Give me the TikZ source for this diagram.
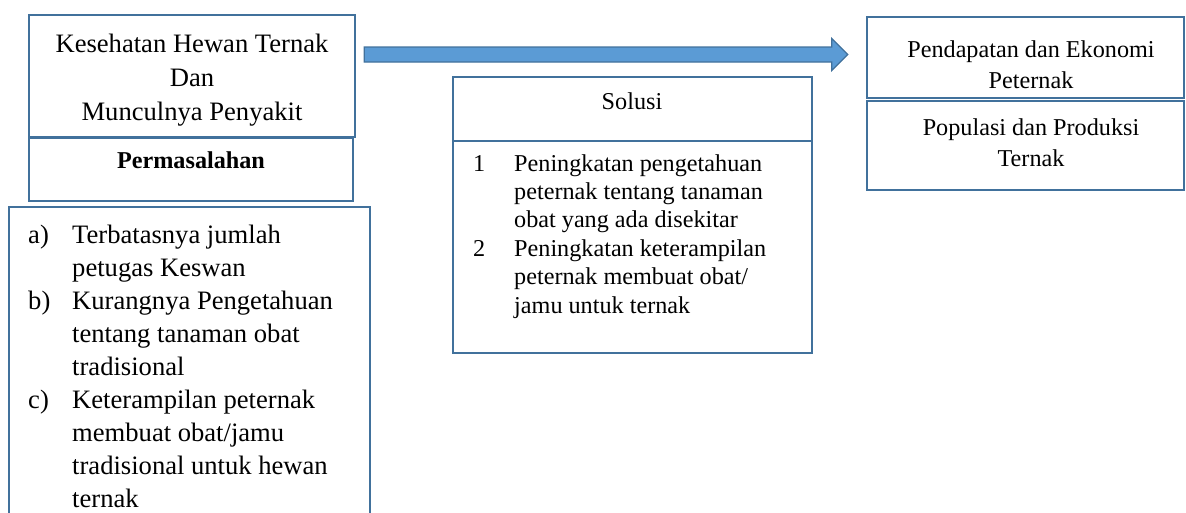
\documentclass[tikz,border=0pt]{standalone}
\usepackage{fontspec}
\setmainfont{Liberation Serif}
\usepackage{tikz}
\usetikzlibrary{calc}
\definecolor{boxblue}{RGB}{65,113,156}
\definecolor{arrowblue}{RGB}{91,155,213}
\tikzset{
  box/.style={draw=boxblue, line width=2.4pt, fill=white, inner sep=0pt},
  bigarrow/.style={draw=boxblue, line width=1.2pt, fill=arrowblue, line join=miter}
}
\begin{document}
\begin{tikzpicture}[x=1pt, y=-1pt]
    \useasboundingbox (0,0) rectangle (1186,512);
    \clip (0,0) rectangle (1186,512);
    % left column
    \node [box, minimum width=326, minimum height=122] (kes) at (192,76) {};
    \node [anchor=base, inner sep=0pt, font=\fontsize{26.6}{34}\selectfont] (kestxt) at (192,52)
        {\begin{tabular}[t]{@{}c@{}}Kesehatan Hewan Ternak\\Dan\\Munculnya Penyakit\end{tabular}};
    \node [box, minimum width=324, minimum height=63] (masalah) at (191,169.5) {};
    \node [anchor=base, inner sep=0pt, font=\fontsize{24.2}{29}\selectfont\bfseries] (masalahtxt) at (191,168) {Permasalahan};
    \node [box, minimum width=361, minimum height=326] (daftar) at (189.5,370) {};
    \node [anchor=base west, inner sep=0pt, font=\fontsize{26.6}{33}\selectfont] (daftartxt) at (28,243)
        {\begin{tabular}[t]{@{}p{44pt}@{}l@{}}
          a) & Terbatasnya jumlah\\
             & petugas Keswan\\
          b) & Kurangnya Pengetahuan\\
             & tentang tanaman obat\\
             & tradisional\\
          c) & Keterampilan peternak\\
             & membuat obat/jamu\\
             & tradisional untuk hewan\\
             & ternak
        \end{tabular}};
    % middle column
    \node [box, minimum width=359, minimum height=64] (solusi) at (632.5,109) {};
    \node [anchor=base, inner sep=0pt, font=\fontsize{24.2}{29}\selectfont] (solusitxt) at (632,109) {Solusi};
    \node [box, minimum width=359, minimum height=212] (langkah) at (632.5,247) {};
    \node [anchor=base west, inner sep=0pt, font=\fontsize{24.2}{28.4}\selectfont] (langkahtxt) at (473,171)
        {\begin{tabular}[t]{@{}p{41pt}@{}l@{}}
          1 & Peningkatan pengetahuan\\
            & peternak tentang tanaman\\
            & obat yang ada disekitar\\
          2 & Peningkatan keterampilan\\
            & peternak membuat obat/\\
            & jamu untuk ternak
        \end{tabular}};
    % right column
    \node [box, minimum width=317, minimum height=81] (pendapatan) at (1025.5,57.5) {};
    \node [anchor=base, inner sep=0pt, font=\fontsize{24.2}{31}\selectfont] (pendapatantxt) at (1031,57)
        {\begin{tabular}[t]{@{}c@{}}Pendapatan dan Ekonomi\\Peternak\end{tabular}};
    \node [box, minimum width=317, minimum height=89] (populasi) at (1025.5,145.5) {};
    \node [anchor=base, inner sep=0pt, font=\fontsize{24.2}{31}\selectfont] (populasitxt) at (1031,135)
        {\begin{tabular}[t]{@{}c@{}}Populasi dan Produksi\\Ternak\end{tabular}};
    % block arrow
    \coordinate (arrS) at ($(kes.east)+(8,-21.5)$);
    \coordinate (arrE) at ($(pendapatan.west)+(-18,-3)$);
    \draw [bigarrow] ($(arrS)+(0,-7.5)$) -- ($(arrE)+(-16,-7.5)$) -- ($(arrE)+(-16,-16)$) -- (arrE)
        -- ($(arrE)+(-16,16)$) -- ($(arrE)+(-16,7.5)$) -- ($(arrS)+(0,7.5)$) -- cycle;
\end{tikzpicture}
\end{document}
